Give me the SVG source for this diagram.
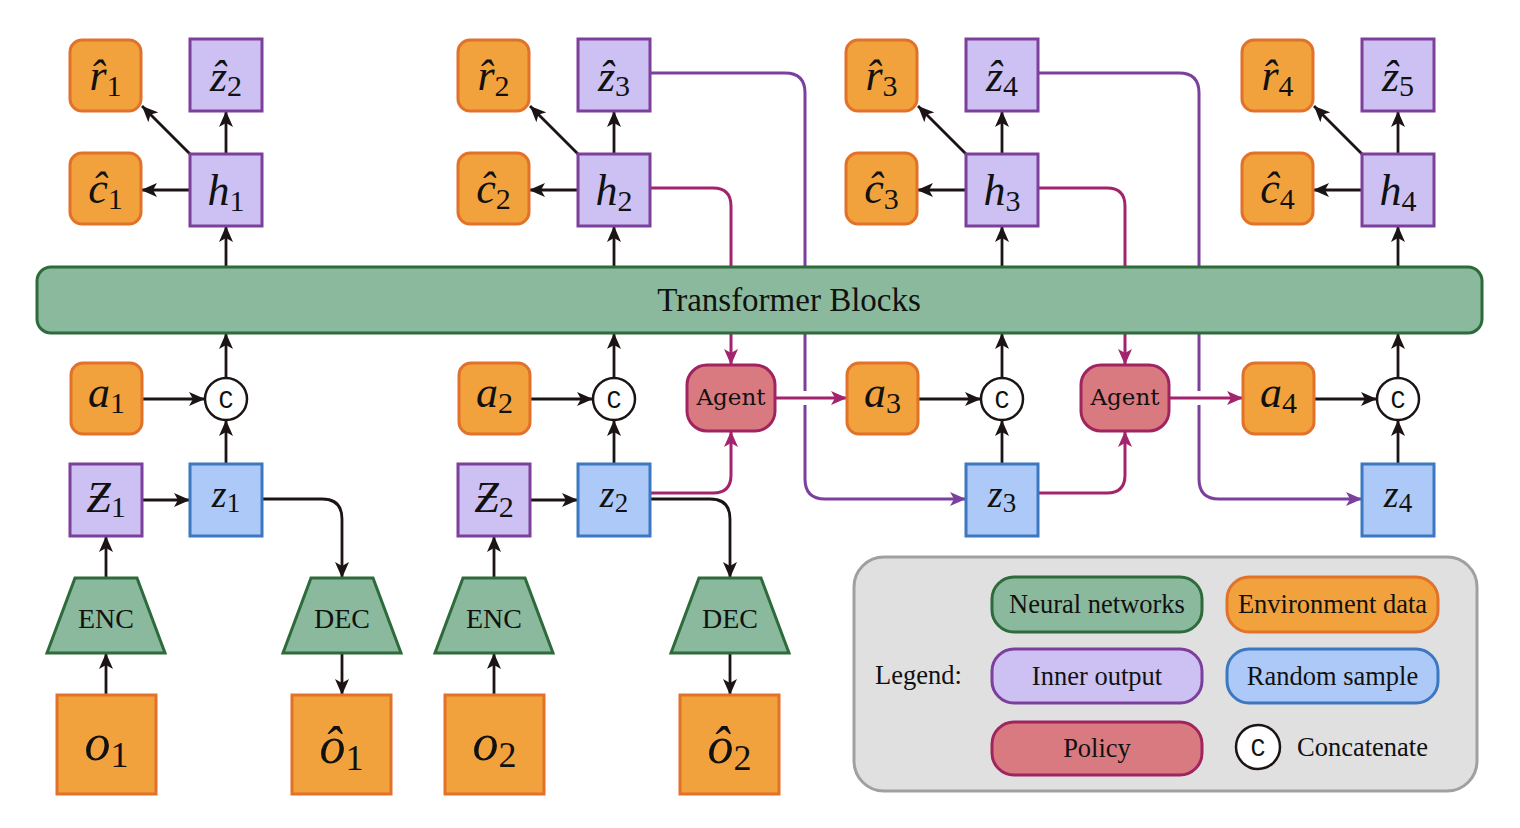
<svg xmlns="http://www.w3.org/2000/svg" width="1520" height="828" viewBox="0 0 1520 828">
<defs>
<style>
.or{fill:#f2a23c;stroke:#e2712a;stroke-width:3}
.pu{fill:#ccc1f2;stroke:#7d3f9c;stroke-width:3}
.bl{fill:#adc9f7;stroke:#3b78bf;stroke-width:3}
.gr{fill:#8ab99d;stroke:#2e6b3b;stroke-width:3}
.po{fill:#d97a80;stroke:#a0245f;stroke-width:3}
.cc{fill:#fff;stroke:#1c1414;stroke-width:2.5}
.k{fill:none;stroke:#1c1414;stroke-width:2.8}
.pk{fill:none;stroke:#a3236c;stroke-width:3}
.pp{fill:none;stroke:#7b409e;stroke-width:3}
.m{font-family:"Liberation Serif",serif;font-size:44px;fill:#111;text-anchor:middle}
.i{font-style:italic}
.s{font-size:30px;font-style:normal}
.mz{font-size:38px}
.sz{font-size:27px;font-style:normal}
.mo{font-size:52px}
.so{font-size:36px;font-style:normal}
.t{font-family:"Liberation Serif",serif;fill:#111;text-anchor:middle}
.ag{font-family:"DejaVu Serif",serif;font-size:23px;fill:#111;text-anchor:middle}
.c{font-family:"Liberation Mono",monospace;font-size:25px;fill:#111;text-anchor:middle}
.lg{font-family:"Liberation Serif",serif;font-size:26.5px;fill:#111}
</style>
<marker id="ak" viewBox="0 0 16 14" refX="16" refY="7" markerWidth="16" markerHeight="14" markerUnits="userSpaceOnUse" orient="auto"><path d="M0,0 L16,7 L0,14 L4,7 z" fill="#1c1414"/></marker>
<marker id="apk" viewBox="0 0 16 14" refX="16" refY="7" markerWidth="16" markerHeight="14" markerUnits="userSpaceOnUse" orient="auto"><path d="M0,0 L16,7 L0,14 L4,7 z" fill="#a3236c"/></marker>
<marker id="app" viewBox="0 0 16 14" refX="16" refY="7" markerWidth="16" markerHeight="14" markerUnits="userSpaceOnUse" orient="auto"><path d="M0,0 L16,7 L0,14 L4,7 z" fill="#7b409e"/></marker>
</defs>
<rect width="1520" height="828" fill="#fff"/>

<g id="connectors">
<!-- column 1 -->
<path class="k" marker-end="url(#ak)" d="M226,267 V226"/>
<path class="k" marker-end="url(#ak)" d="M226,154 V111"/>
<path class="k" marker-end="url(#ak)" d="M190,190 H141"/>
<path class="k" marker-end="url(#ak)" d="M190,154 L142,106"/>
<path class="k" marker-end="url(#ak)" d="M226,378 V333"/>
<path class="k" marker-end="url(#ak)" d="M142,399 H205"/>
<path class="k" marker-end="url(#ak)" d="M226,464 V420"/>
<path class="k" marker-end="url(#ak)" d="M142,500 H190"/>
<path class="k" marker-end="url(#ak)" d="M106,695 V653"/>
<path class="k" marker-end="url(#ak)" d="M106,578 V536"/>
<path class="k" marker-end="url(#ak)" d="M262,499 H322 Q342,499 342,519 V578"/>
<path class="k" marker-end="url(#ak)" d="M342,653 V695"/>
<!-- column 2 -->
<path class="k" marker-end="url(#ak)" d="M614,267 V226"/>
<path class="k" marker-end="url(#ak)" d="M614,154 V111"/>
<path class="k" marker-end="url(#ak)" d="M578,190 H529"/>
<path class="k" marker-end="url(#ak)" d="M578,154 L530,106"/>
<path class="k" marker-end="url(#ak)" d="M614,378 V333"/>
<path class="k" marker-end="url(#ak)" d="M530,399 H593"/>
<path class="k" marker-end="url(#ak)" d="M614,464 V420"/>
<path class="k" marker-end="url(#ak)" d="M530,500 H578"/>
<path class="k" marker-end="url(#ak)" d="M494,695 V653"/>
<path class="k" marker-end="url(#ak)" d="M494,578 V536"/>
<path class="k" marker-end="url(#ak)" d="M650,499 H710 Q730,499 730,519 V578"/>
<path class="k" marker-end="url(#ak)" d="M730,653 V695"/>
<!-- column 3 -->
<path class="k" marker-end="url(#ak)" d="M1002,267 V226"/>
<path class="k" marker-end="url(#ak)" d="M1002,154 V111"/>
<path class="k" marker-end="url(#ak)" d="M966,190 H917"/>
<path class="k" marker-end="url(#ak)" d="M966,154 L918,106"/>
<path class="k" marker-end="url(#ak)" d="M1002,378 V333"/>
<path class="k" marker-end="url(#ak)" d="M918,399 H981"/>
<path class="k" marker-end="url(#ak)" d="M1002,464 V420"/>
<!-- column 4 -->
<path class="k" marker-end="url(#ak)" d="M1398,267 V226"/>
<path class="k" marker-end="url(#ak)" d="M1398,154 V111"/>
<path class="k" marker-end="url(#ak)" d="M1362,190 H1313"/>
<path class="k" marker-end="url(#ak)" d="M1362,154 L1314,106"/>
<path class="k" marker-end="url(#ak)" d="M1398,378 V333"/>
<path class="k" marker-end="url(#ak)" d="M1314,399 H1377"/>
<path class="k" marker-end="url(#ak)" d="M1398,464 V420"/>
<!-- imagination / policy -->
<path class="pp" marker-end="url(#app)" d="M650,73 H785 Q805,73 805,93 V479 Q805,499 825,499 H966"/>
<path class="pp" marker-end="url(#app)" d="M1038,73 H1179 Q1199,73 1199,93 V479 Q1199,499 1219,499 H1362"/>
<path class="pk" marker-end="url(#apk)" d="M650,188 H713 Q731,188 731,206 V365"/>
<path class="pk" marker-end="url(#apk)" d="M650,493 H713 Q731,493 731,475 V431"/>
<path class="pk" marker-end="url(#apk)" d="M1038,188 H1107 Q1125,188 1125,206 V365"/>
<path class="pk" marker-end="url(#apk)" d="M1038,493 H1107 Q1125,493 1125,475 V431"/>
<path d="M799,398 H811 M1193,398 H1205" stroke="#fff" stroke-width="14" fill="none"/>
<path class="pk" marker-end="url(#apk)" d="M775,398 H847"/>
<path class="pk" marker-end="url(#apk)" d="M1169,398 H1243"/>
</g>

<g id="transformer"><rect class="gr" x="37" y="267" width="1445" height="66" rx="14"/><text class="t" x="789" y="311" font-size="33">Transformer Blocks</text></g>

<g id="r1"><rect class="or" x="70" y="40" width="71" height="71" rx="12"/><text class="m" x="105.5" y="89.5"><tspan class="i">r&#x302;</tspan><tspan class="s" dy="6">1</tspan></text></g>
<g id="zhat2"><rect class="pu" x="190" y="39" width="72" height="72"/><text class="m" x="226" y="91"><tspan class="i">&#x1E91;</tspan><tspan class="s" dy="5">2</tspan></text></g>
<g id="c1"><rect class="or" x="70" y="153" width="71" height="71" rx="12"/><text class="m" x="105.5" y="202.5"><tspan class="i">&#x109;</tspan><tspan class="s" dy="6">1</tspan></text></g>
<g id="h1"><rect class="pu" x="190" y="154" width="72" height="72"/><text class="m" x="226" y="205"><tspan class="i">h</tspan><tspan class="s" dy="6">1</tspan></text></g>

<g id="r2"><rect class="or" x="458" y="40" width="71" height="71" rx="12"/><text class="m" x="493.5" y="89.5"><tspan class="i">r&#x302;</tspan><tspan class="s" dy="6">2</tspan></text></g>
<g id="zhat3"><rect class="pu" x="578" y="39" width="72" height="72"/><text class="m" x="614" y="91"><tspan class="i">&#x1E91;</tspan><tspan class="s" dy="5">3</tspan></text></g>
<g id="c2"><rect class="or" x="458" y="153" width="71" height="71" rx="12"/><text class="m" x="493.5" y="202.5"><tspan class="i">&#x109;</tspan><tspan class="s" dy="6">2</tspan></text></g>
<g id="h2"><rect class="pu" x="578" y="154" width="72" height="72"/><text class="m" x="614" y="205"><tspan class="i">h</tspan><tspan class="s" dy="6">2</tspan></text></g>

<g id="r3"><rect class="or" x="846" y="40" width="71" height="71" rx="12"/><text class="m" x="881.5" y="89.5"><tspan class="i">r&#x302;</tspan><tspan class="s" dy="6">3</tspan></text></g>
<g id="zhat4"><rect class="pu" x="966" y="39" width="72" height="72"/><text class="m" x="1002" y="91"><tspan class="i">&#x1E91;</tspan><tspan class="s" dy="5">4</tspan></text></g>
<g id="c3"><rect class="or" x="846" y="153" width="71" height="71" rx="12"/><text class="m" x="881.5" y="202.5"><tspan class="i">&#x109;</tspan><tspan class="s" dy="6">3</tspan></text></g>
<g id="h3"><rect class="pu" x="966" y="154" width="72" height="72"/><text class="m" x="1002" y="205"><tspan class="i">h</tspan><tspan class="s" dy="6">3</tspan></text></g>

<g id="r4"><rect class="or" x="1242" y="40" width="71" height="71" rx="12"/><text class="m" x="1277.5" y="89.5"><tspan class="i">r&#x302;</tspan><tspan class="s" dy="6">4</tspan></text></g>
<g id="zhat5"><rect class="pu" x="1362" y="39" width="72" height="72"/><text class="m" x="1398" y="91"><tspan class="i">&#x1E91;</tspan><tspan class="s" dy="5">5</tspan></text></g>
<g id="c4"><rect class="or" x="1242" y="153" width="71" height="71" rx="12"/><text class="m" x="1277.5" y="202.5"><tspan class="i">&#x109;</tspan><tspan class="s" dy="6">4</tspan></text></g>
<g id="h4"><rect class="pu" x="1362" y="154" width="72" height="72"/><text class="m" x="1398" y="205"><tspan class="i">h</tspan><tspan class="s" dy="6">4</tspan></text></g>

<g id="a1"><rect class="or" x="71" y="363" width="71" height="71" rx="12"/><text class="m" x="106.5" y="407"><tspan class="i">a</tspan><tspan class="s" dy="6">1</tspan></text></g>
<g id="cat1"><circle class="cc" cx="226" cy="399" r="21"/><text class="c" x="226" y="407.5">C</text></g>
<g id="Z1"><rect class="pu" x="70" y="464" width="72" height="72"/><text class="m" x="106" y="512"><tspan class="i">&#x1B5;</tspan><tspan class="s" dy="5">1</tspan></text></g>
<g id="z1"><rect class="bl" x="190" y="464" width="72" height="72"/><text class="m mz" x="226" y="507"><tspan class="i">z</tspan><tspan class="sz" dy="5">1</tspan></text></g>
<g id="enc1"><polygon class="gr" points="75,578 137,578 165,653 47,653"/><text class="t" x="106" y="628" font-size="28">ENC</text></g>
<g id="dec1"><polygon class="gr" points="311,578 373,578 401,653 283,653"/><text class="t" x="342" y="628" font-size="28">DEC</text></g>
<g id="o1"><rect class="or" x="57" y="695" width="99" height="99"/><text class="m mo" x="106.5" y="760"><tspan class="i">o</tspan><tspan class="so" dy="7">1</tspan></text></g>
<g id="ohat1"><rect class="or" x="292" y="695" width="99" height="99"/><text class="m mo" x="341.5" y="763"><tspan class="i">&#xF4;</tspan><tspan class="so" dy="7">1</tspan></text></g>

<g id="a2"><rect class="or" x="459" y="363" width="71" height="71" rx="12"/><text class="m" x="494.5" y="407"><tspan class="i">a</tspan><tspan class="s" dy="6">2</tspan></text></g>
<g id="cat2"><circle class="cc" cx="614" cy="399" r="21"/><text class="c" x="614" y="407.5">C</text></g>
<g id="Z2"><rect class="pu" x="458" y="464" width="72" height="72"/><text class="m" x="494" y="512"><tspan class="i">&#x1B5;</tspan><tspan class="s" dy="5">2</tspan></text></g>
<g id="z2"><rect class="bl" x="578" y="464" width="72" height="72"/><text class="m mz" x="614" y="507"><tspan class="i">z</tspan><tspan class="sz" dy="5">2</tspan></text></g>
<g id="enc2"><polygon class="gr" points="463,578 525,578 553,653 435,653"/><text class="t" x="494" y="628" font-size="28">ENC</text></g>
<g id="dec2"><polygon class="gr" points="699,578 761,578 789,653 671,653"/><text class="t" x="730" y="628" font-size="28">DEC</text></g>
<g id="o2"><rect class="or" x="445" y="695" width="99" height="99"/><text class="m mo" x="494.5" y="760"><tspan class="i">o</tspan><tspan class="so" dy="7">2</tspan></text></g>
<g id="ohat2"><rect class="or" x="680" y="695" width="99" height="99"/><text class="m mo" x="729.5" y="763"><tspan class="i">&#xF4;</tspan><tspan class="so" dy="7">2</tspan></text></g>

<g id="agent1"><rect class="po" x="687" y="365" width="88" height="66" rx="20"/><text class="ag" x="731" y="405">Agent</text></g>
<g id="a3"><rect class="or" x="847" y="363" width="71" height="71" rx="12"/><text class="m" x="882.5" y="407"><tspan class="i">a</tspan><tspan class="s" dy="6">3</tspan></text></g>
<g id="cat3"><circle class="cc" cx="1002" cy="399" r="21"/><text class="c" x="1002" y="407.5">C</text></g>
<g id="z3"><rect class="bl" x="966" y="464" width="72" height="72"/><text class="m mz" x="1002" y="507"><tspan class="i">z</tspan><tspan class="sz" dy="5">3</tspan></text></g>

<g id="agent2"><rect class="po" x="1081" y="365" width="88" height="66" rx="20"/><text class="ag" x="1125" y="405">Agent</text></g>
<g id="a4"><rect class="or" x="1243" y="363" width="71" height="71" rx="12"/><text class="m" x="1278.5" y="407"><tspan class="i">a</tspan><tspan class="s" dy="6">4</tspan></text></g>
<g id="cat4"><circle class="cc" cx="1398" cy="399" r="21"/><text class="c" x="1398" y="407.5">C</text></g>
<g id="z4"><rect class="bl" x="1362" y="464" width="72" height="72"/><text class="m mz" x="1398" y="507"><tspan class="i">z</tspan><tspan class="sz" dy="5">4</tspan></text></g>

<g id="legend">
<rect x="854" y="557" width="623" height="234" rx="30" fill="#e0e0e0" stroke="#a0a0a0" stroke-width="3"/>
<text class="lg" x="875" y="684">Legend:</text>
<rect class="gr" x="992" y="577" width="210" height="55" rx="22"/><text class="lg" x="1097" y="613" text-anchor="middle">Neural networks</text>
<rect class="or" x="1227" y="577" width="211" height="55" rx="22"/><text class="lg" x="1332.5" y="613" text-anchor="middle">Environment data</text>
<rect class="pu" x="992" y="649" width="210" height="54" rx="22"/><text class="lg" x="1097" y="685" text-anchor="middle">Inner output</text>
<rect class="bl" x="1227" y="649" width="211" height="54" rx="22"/><text class="lg" x="1332.5" y="685" text-anchor="middle">Random sample</text>
<rect class="po" x="992" y="722" width="210" height="53" rx="22"/><text class="lg" x="1097" y="757" text-anchor="middle">Policy</text>
<circle class="cc" cx="1258" cy="747" r="22"/><text class="c" x="1258" y="755.5">C</text>
<text class="lg" x="1297" y="756">Concatenate</text>
</g>
</svg>
